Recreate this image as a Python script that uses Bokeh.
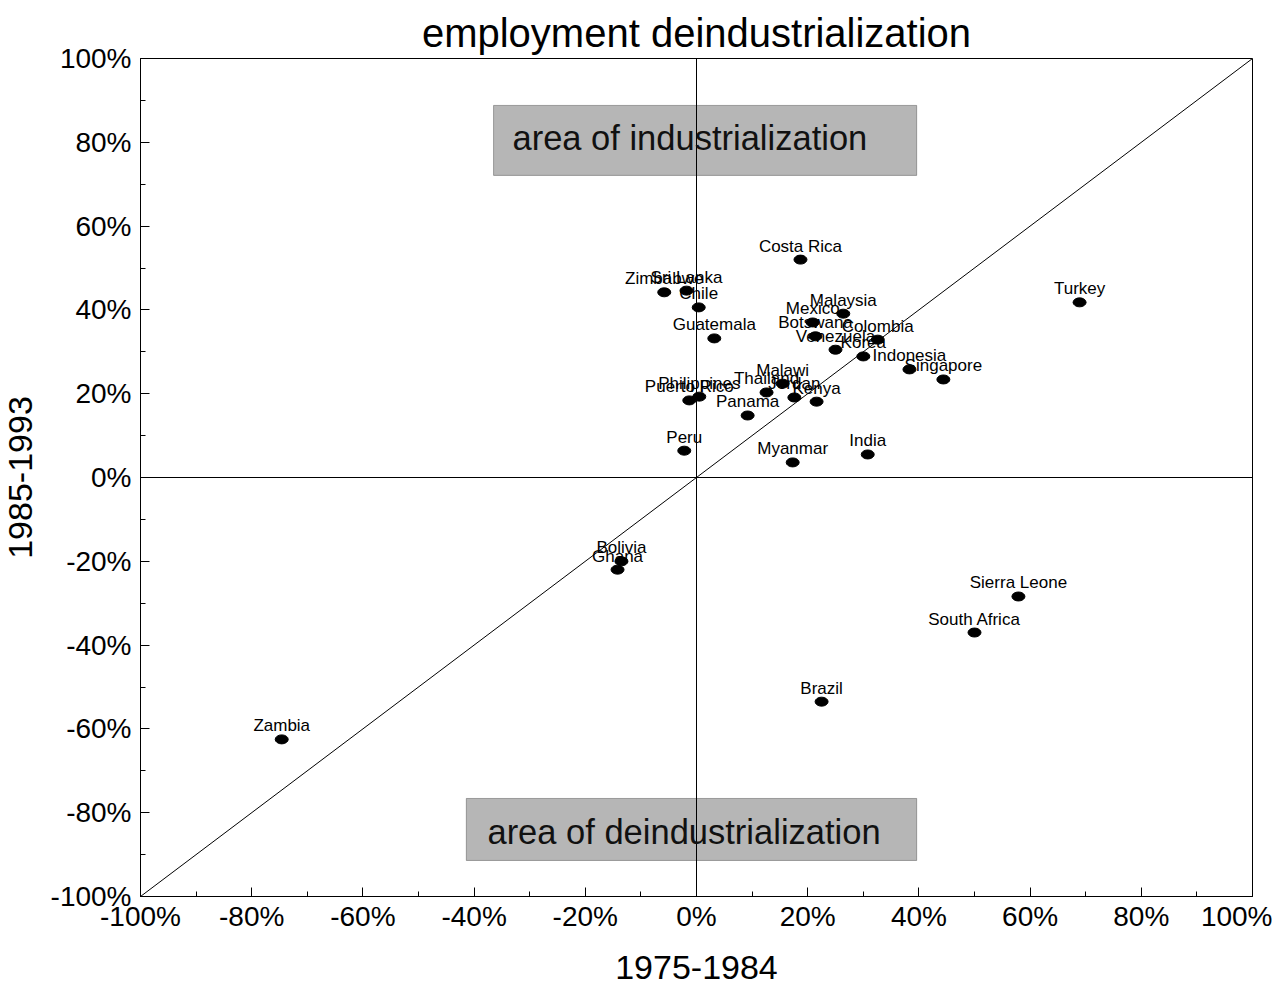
from bokeh.plotting import figure
from bokeh.models import (ColumnDataSource, LabelSet, Label, Range1d, Span, Slope,
                          SingleIntervalTicker, PrintfTickFormatter, BoxAnnotation)
from bokeh.core.properties import value
from bokeh.embed import file_html
from bokeh.resources import INLINE

countries = ["Costa Rica", "Sri Lanka", "Zimbabwe", "Chile", "Guatemala", "Malaysia",
             "Mexico", "Botswana", "Colombia", "Venezuela", "Korea", "Indonesia",
             "Singapore", "Malawi", "Thailand", "Jordan", "Kenya", "Philippines",
             "Puerto Rico", "Panama", "Peru", "Myanmar", "India", "Bolivia", "Ghana",
             "Sierra Leone", "South Africa", "Brazil", "Zambia", "Turkey"]
period_1975_1984 = [18.7, -1.8, -5.8, 0.4, 3.2, 26.4,
                    20.9, 21.4, 32.6, 25.0, 30.0, 38.3,
                    44.4, 15.5, 12.6, 17.6, 21.6, 0.5,
                    -1.3, 9.2, -2.2, 17.3, 30.8, -13.5, -14.2,
                    57.9, 50.0, 22.5, -74.6, 68.9]
period_1985_1993 = [52.0, 44.6, 44.2, 40.6, 33.2, 39.1,
                    37.0, 33.7, 32.9, 30.5, 28.9, 25.8,
                    23.4, 22.4, 20.3, 19.1, 18.1, 19.3,
                    18.4, 14.8, 6.4, 3.6, 5.5, -20.0, -22.0,
                    -28.4, -37.0, -53.5, -62.5, 41.8]
title_text = "employment deindustrialization"

FONT = "Liberation Sans"

src = ColumnDataSource(dict(x=period_1975_1984, y=period_1985_1993, name=countries))

p = figure(frame_width=1112, frame_height=838, output_backend="svg", toolbar_location=None,
           x_range=Range1d(-100, 100), y_range=Range1d(-100, 100),
           min_border_left=140, min_border_right=20, min_border_top=58, min_border_bottom=91,
           title=title_text)
p.title.align = "center"
p.title.vertical_align = "top"
p.title.text_font = FONT
p.title.text_font_size = "40px"
p.title.text_font_style = "normal"
p.title.text_color = "black"
p.title.offset = 0
p.title.standoff = 4

p.xgrid.visible = False
p.ygrid.visible = False
p.outline_line_color = "black"
p.outline_line_width = 1
p.background_fill_color = "white"
p.border_fill_color = "white"

for ax in (p.xaxis[0], p.yaxis[0]):
    ax.ticker = SingleIntervalTicker(interval=20, num_minor_ticks=2)
    ax.formatter = PrintfTickFormatter(format="%d%%")
    ax.major_tick_in = 9
    ax.major_tick_out = 0
    ax.minor_tick_in = 5
    ax.minor_tick_out = 0
    ax.axis_line_color = "black"
    ax.major_tick_line_color = "black"
    ax.minor_tick_line_color = "black"
    ax.major_label_text_font = FONT
    ax.major_label_text_font_size = "28px"
    ax.major_label_text_color = "black"
    ax.axis_label_text_font = FONT
    ax.axis_label_text_font_size = "34px"
    ax.axis_label_text_font_style = "normal"
    ax.axis_label_text_color = "black"

p.xaxis.axis_label = "1975-1984"
p.yaxis.axis_label = "1985-1993"
p.xaxis.major_label_standoff = 4
p.yaxis.major_label_standoff = 9
p.xaxis.axis_label_standoff = 21
p.yaxis.axis_label_standoff = 16

# reference lines
p.add_layout(Span(location=0, dimension="height", line_color="black", line_width=1))
p.add_layout(Span(location=0, dimension="width", line_color="black", line_width=1))
p.add_layout(Slope(gradient=1, y_intercept=0, line_color="black", line_width=1))

# shaded area boxes
p.add_layout(BoxAnnotation(left=-36.5, right=39.6, bottom=72.1, top=88.8,
                           fill_color="#b6b6b6", fill_alpha=1, line_color="black",
                           line_width=1, level="underlay"))
p.add_layout(BoxAnnotation(left=-41.4, right=39.6, bottom=-91.4, top=-76.6,
                           fill_color="#b6b6b6", fill_alpha=1, line_color="black",
                           line_width=1, level="underlay"))
p.add_layout(Label(x=-33.1, y=81.0, text="area of industrialization",
                   text_font=FONT, text_font_size="34.5px", text_color="#111111",
                   text_align="left", text_baseline="alphabetic"))
p.add_layout(Label(x=-37.6, y=-84.5, text="area of deindustrialization",
                   text_font=FONT, text_font_size="34.5px", text_color="#111111",
                   text_align="left", text_baseline="alphabetic"))

p.ellipse(x="x", y="y", width=13, height=9, width_units="screen", height_units="screen",
          fill_color="black", line_color="black", source=src)

p.add_layout(LabelSet(x="x", y="y", text="name", source=src, y_offset=8,
                      text_align="center", text_baseline="alphabetic",
                      text_font=value(FONT), text_font_size=value("17px"), text_color="black"))

open("out.html", "w").write(file_html(p, INLINE))
